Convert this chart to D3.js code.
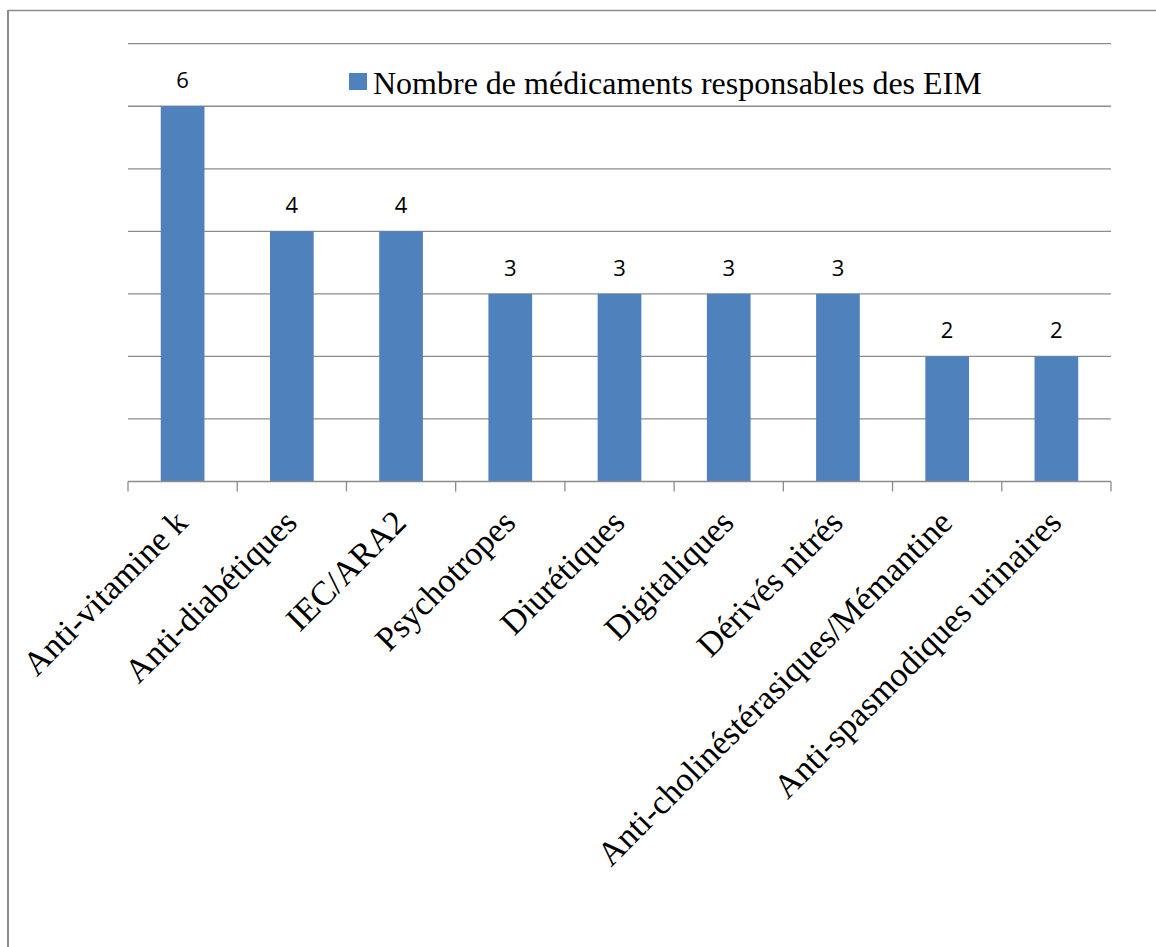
<!DOCTYPE html>
<html>
<head>
<meta charset="utf-8">
<script src="https://cdn.jsdelivr.net/npm/d3@7"></script>
<style>
  html, body { margin: 0; padding: 0; background: #fff; }
  svg { display: block; }
</style>
</head>
<body>
<svg id="chart" width="1156" height="947"></svg>
<script>
const categories = [
  "Anti-vitamine k",
  "Anti-diabétiques",
  "IEC/ARA2",
  "Psychotropes",
  "Diurétiques",
  "Digitaliques",
  "Dérivés nitrés",
  "Anti-cholinéstérasiques/Mémantine",
  "Anti-spasmodiques urinaires"
];
const values = [6, 4, 4, 3, 3, 3, 3, 2, 2];
const seriesName = "Nombre de médicaments responsables des EIM";
const yTicks = [0, 1, 2, 3, 4, 5, 6, 7];

(function () {
const svg = d3.select("#chart");
const gray = "#8c8c8c";
const barColor = "#4f81bd";

// frame
svg.append("line").attr("x1", 8).attr("x2", 1156).attr("y1", 10.5).attr("y2", 10.5)
  .attr("stroke", gray).attr("stroke-width", 1.5);
svg.append("line").attr("x1", 8).attr("x2", 8).attr("y1", 10).attr("y2", 947)
  .attr("stroke", gray).attr("stroke-width", 2);

const pLeft = 128, pRight = 1111, pTop = 43.7, pBottom = 481.5;

const x = d3.scaleBand().domain(categories).range([pLeft, pRight]).paddingInner(0.6).paddingOuter(0.3);
const xb = d3.scaleBand().domain(categories).range([pLeft, pRight]);
const y = d3.scaleLinear().domain([0, 7]).range([pBottom, pTop]);

// gridlines
svg.append("g").selectAll("line").data(yTicks.filter(d => d > 0)).join("line")
  .attr("x1", pLeft).attr("x2", pRight)
  .attr("y1", d => y(d)).attr("y2", d => y(d))
  .attr("stroke", gray).attr("stroke-width", 1.3);

// bars
svg.append("g").selectAll("rect").data(values).join("rect")
  .attr("x", (d, i) => x(categories[i]))
  .attr("width", x.bandwidth())
  .attr("y", d => y(d))
  .attr("height", d => y(0) - y(d))
  .attr("fill", barColor);

// x axis
const xAxis = svg.append("g").attr("transform", `translate(0,${pBottom})`);
xAxis.append("line").attr("x1", pLeft).attr("x2", pRight).attr("stroke", gray).attr("stroke-width", 1.3);
const boundaries = categories.map(c => xb(c)).concat([pRight]);
xAxis.selectAll("line.tick").data(boundaries).join("line").attr("class", "tick")
  .attr("x1", d => d).attr("x2", d => d).attr("y1", 0).attr("y2", 10)
  .attr("stroke", gray).attr("stroke-width", 1.3);

// category labels
svg.append("g").selectAll("text").data(categories).join("text")
  .attr("transform", d => `translate(${xb(d) + xb.bandwidth() / 2 + 7},${pBottom + 43}) rotate(-45)`)
  .attr("text-anchor", "end")
  .attr("font-family", "'Liberation Serif', 'Times New Roman', serif")
  .attr("font-size", 34)
  .attr("fill", "#000")
  .text(d => d);

// value labels
svg.append("g").selectAll("text").data(values).join("text")
  .attr("x", (d, i) => x(categories[i]) + x.bandwidth() / 2)
  .attr("y", d => y(d) - 18)
  .attr("text-anchor", "middle")
  .attr("font-family", "'Open Sans', 'Liberation Sans', sans-serif")
  .attr("font-size", 22)
  .attr("fill", "#000")
  .text(d => d);

// legend
svg.append("rect").attr("x", 349).attr("y", 73).attr("width", 18).attr("height", 17).attr("fill", barColor);
svg.append("text").attr("x", 373).attr("y", 94)
  .attr("font-family", "'Liberation Serif', 'Times New Roman', serif")
  .attr("font-size", 32)
  .attr("fill", "#000")
  .text(seriesName);
})();
</script>
</body>
</html>
